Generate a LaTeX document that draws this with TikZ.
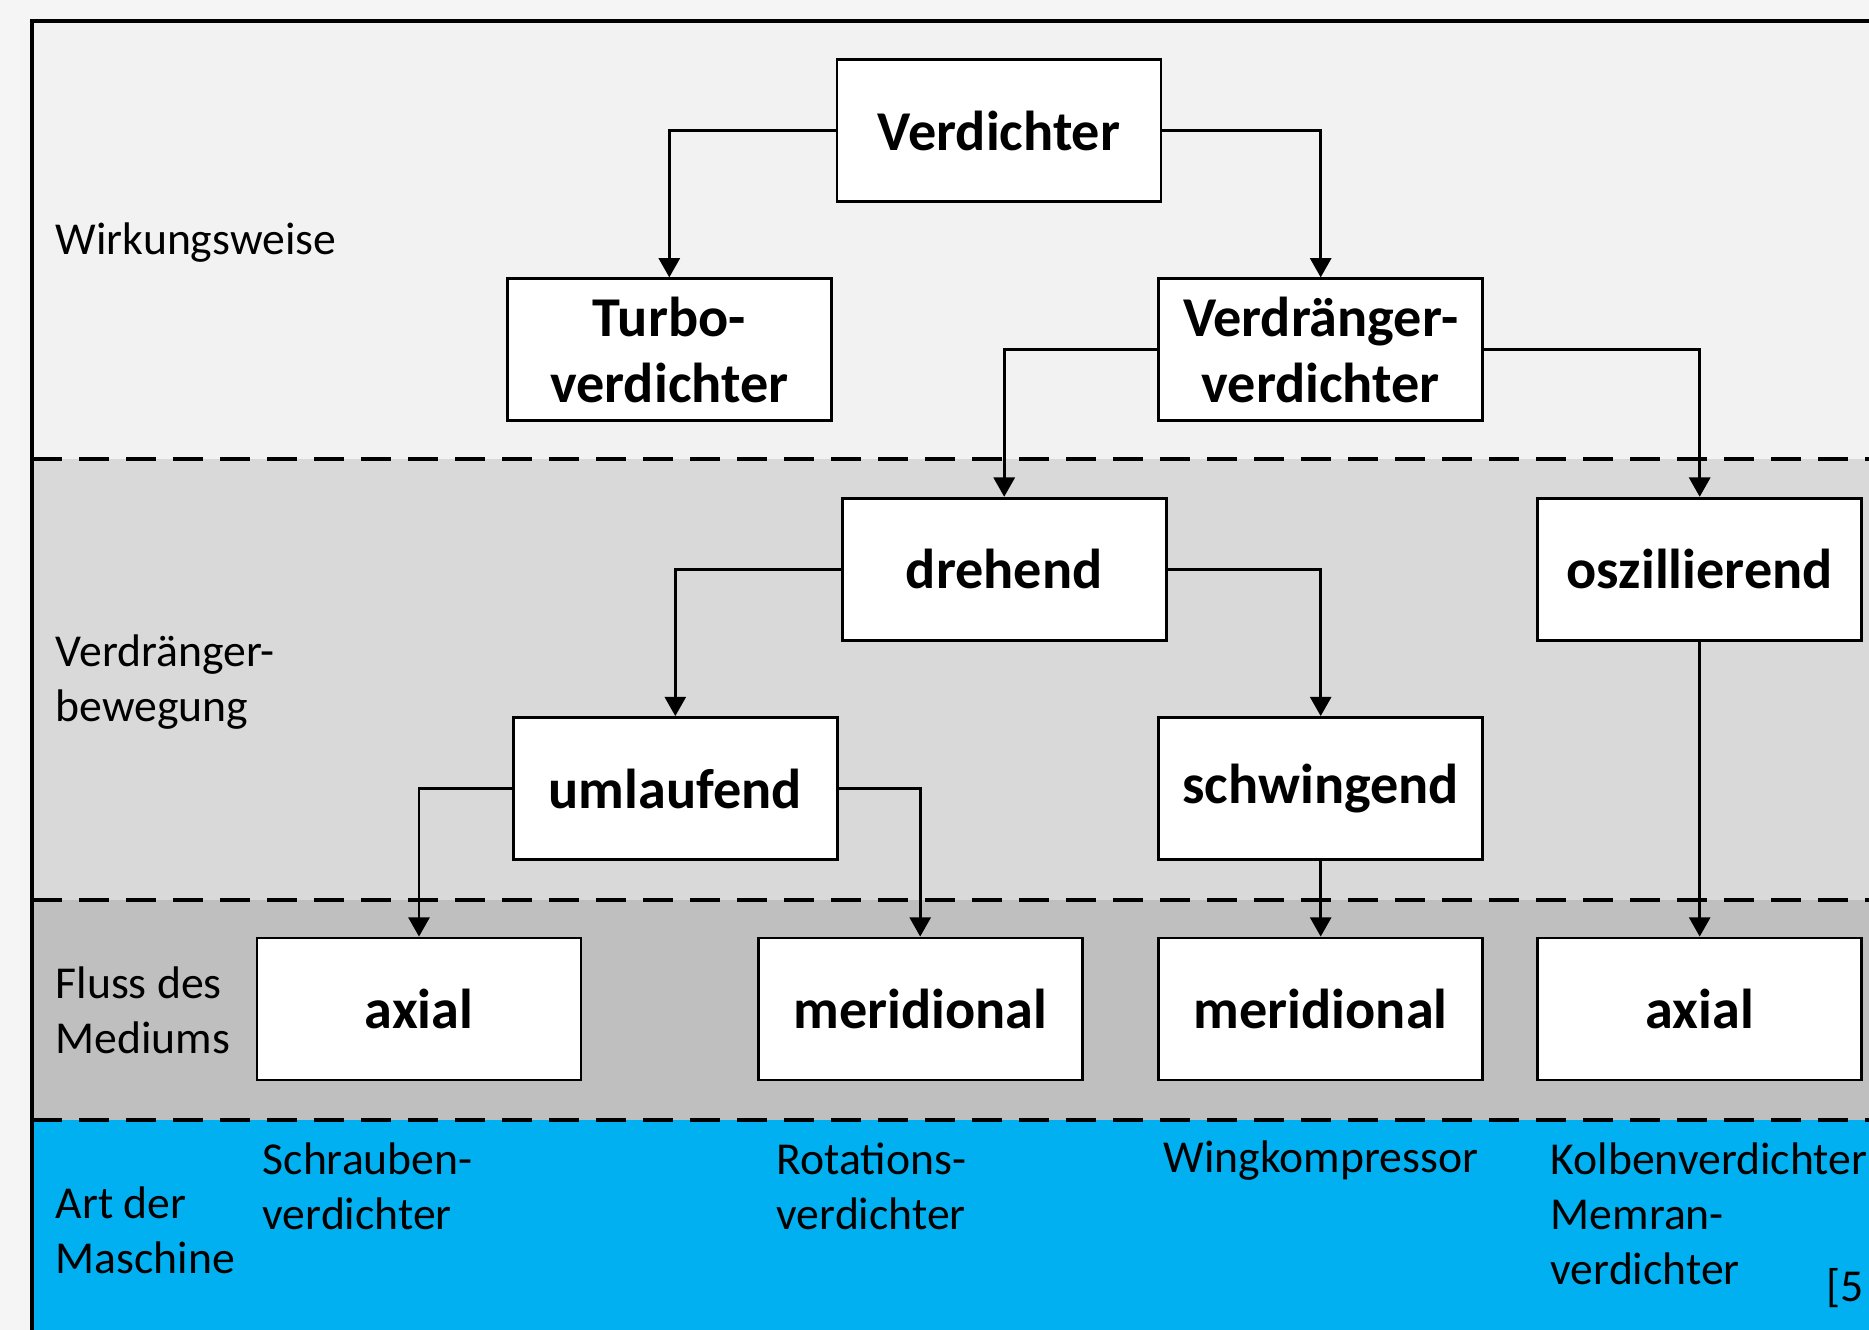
\documentclass[tikz,border=0pt]{standalone}
\usepackage{fontspec}
\setmainfont{Carlito}
\usetikzlibrary{arrows.meta}
\definecolor{outerbg}{HTML}{F5F5F5}
\definecolor{bandone}{HTML}{F2F2F2}
\definecolor{bandtwo}{HTML}{D9D9D9}
\definecolor{bandthree}{HTML}{BFBFBF}
\definecolor{bandfour}{HTML}{00B0F0}
\tikzset{
  box/.style={draw, fill=white, line width=0.8pt, minimum width=3.24cm,
    minimum height=1.42cm, inner sep=0pt, align=center,
    font=\fontsize{16}{18.6}\selectfont\bfseries},
  rowlabel/.style={anchor=west, align=left, inner sep=0pt,
    font=\fontsize{13}{15.6}\selectfont},
  bandline/.style={line width=1.1pt, dash pattern=on 0.3cm off 0.17cm},
  link/.style={line width=0.8pt, -{Triangle[width=6pt,length=5.5pt]}}
}
\begin{document}
\begin{tikzpicture}
  \useasboundingbox (0,0) rectangle (18.69,-13.30);
  \begin{scope}
    \clip (0,0) rectangle (18.69,-13.30);
    % background and bands
    \fill[outerbg] (0,0) rectangle (18.69,-13.30);
    \fill[bandone] (0.32,-0.21) rectangle (19,-4.59);
    \fill[bandtwo] (0.32,-4.59) rectangle (19,-9.00);
    \fill[bandthree] (0.32,-9.00) rectangle (19,-11.20);
    \fill[bandfour] (0.32,-11.20) rectangle (19,-13.6);
    \draw[bandline] (0.32,-4.59) -- (19,-4.59);
    \draw[bandline] (0.32,-9.00) -- (19,-9.00);
    \draw[bandline] (0.32,-11.20) -- (19,-11.20);
    \draw[line width=1pt] (0.32,-13.6) -- (0.32,-0.21) -- (19,-0.21);
    % row labels
    \node[rowlabel] (wirkung) at (0.55,-2.43) {Wirkungsweise};
    \node[rowlabel] (bewegung) at (0.55,-6.82) {Verdränger-\\bewegung};
    \node[rowlabel] (fluss) at (0.55,-10.10) {Fluss des\\Mediums};
    \node[rowlabel] (art) at (0.55,-12.30) {Art der\\Maschine};
    % machine names
    \node[rowlabel] (schraube) at (2.62,-11.86) {Schrauben-\\verdichter};
    \node[rowlabel] (rotation) at (7.76,-11.86) {Rotations-\\verdichter};
    \node[rowlabel] (wing) at (11.63,-11.61) {Wingkompressor};
    \node[rowlabel] (kolben) at (15.50,-12.14) {Kolbenverdichter\\Memran-\\verdichter};
    \node[rowlabel] (quelle) at (18.26,-12.88) {[5};
    % boxes
    \node[box] (verdichter) at (9.99,-1.305) {Verdichter};
    \node[box] (turbo) at (6.693,-3.498) {Turbo-\\verdichter};
    \node[box] (verdraenger) at (13.207,-3.498) {Verdränger-\\verdichter};
    \node[box] (drehend) at (10.042,-5.692) {drehend};
    \node[box] (oszill) at (16.997,-5.692) {oszillierend};
    \node[box] (umlauf) at (6.753,-7.885) {umlaufend};
    \node[box] (schwing) at (13.207,-7.885) {schwingend};
    \node[box] (axiala) at (4.19,-10.09) {axial};
    \node[box] (merida) at (9.202,-10.09) {meridional};
    \node[box] (meridb) at (13.207,-10.09) {meridional};
    \node[box] (axialb) at (16.997,-10.09) {axial};
    % connectors
    \begin{scope}[link]
      \draw (verdichter.west) -| (turbo.north);
      \draw (verdichter.east) -| (verdraenger.north);
      \draw (verdraenger.west) -| (drehend.north);
      \draw (verdraenger.east) -| (oszill.north);
      \draw (drehend.west) -| (umlauf.north);
      \draw (drehend.east) -| (schwing.north);
      \draw (umlauf.west) -| (axiala.north);
      \draw (umlauf.east) -| (merida.north);
      \draw (schwing.south) -- (meridb.north);
      \draw (oszill.south) -- (axialb.north);
    \end{scope}
  \end{scope}
\end{tikzpicture}
\end{document}
